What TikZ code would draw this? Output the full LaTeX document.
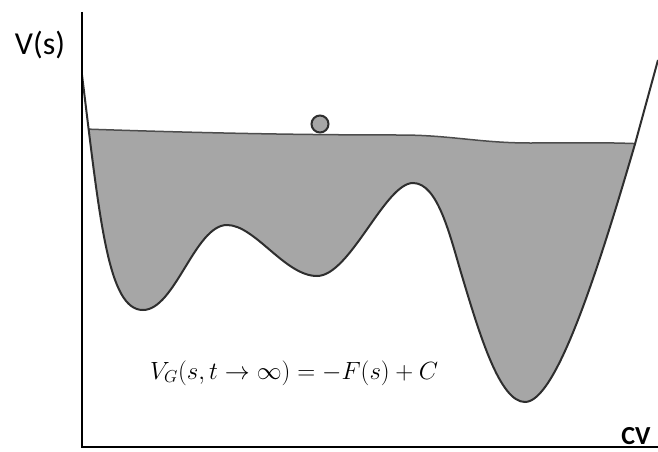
\documentclass[tikz,border=0pt]{standalone}
\usepackage{amsmath, amssymb}
\usepackage{fontspec}
\setmainfont{Carlito}
\usepackage{tikz}
\usetikzlibrary{calc, positioning}
\tikzset{>=latex}
\definecolor{wellgray}{HTML}{A6A6A6}
\definecolor{linegray}{HTML}{2E2E2E}
\tikzset{
  axis line/.style={line width=2.8pt, black},
  valley line/.style={line width=2pt, linegray},
  level line/.style={line width=1.5pt, linegray!85},
  ballnode/.style={circle, fill=wellgray, draw=linegray, line width=2pt,
    minimum size=17pt, inner sep=0pt},
  axis label/.style={font=\fontsize{32}{36}\selectfont, inner sep=0pt},
}
% the potential, pixel coordinates with y up
\newcommand{\valleypath}{(82,376) .. controls (100,230) and (108,141) .. (143,141)
  .. controls (175,141) and (195,226) .. (227,226)
  .. controls (255,226) and (285,175) .. (317,175)
  .. controls (350,175) and (385,268) .. (413,268)
  .. controls (438,268) and (450,215) .. (462,175)
  .. controls (480,115) and (500,49) .. (525,49)
  .. controls (555,49) and (595,170) .. (635,307)
  -- (658,391)}
\newcommand{\levelpath}{(84,322) .. controls (200,318) and (300,316) .. (400,316)
  .. controls (450,316) and (480,308) .. (530,308)
  .. controls (570,308) and (600,309) .. (646,307)}

\begin{document}
\begin{tikzpicture}[x=1pt, y=1pt]
  \useasboundingbox (0,0) rectangle (658,451);
  \coordinate (top) at (82,439);
  \coordinate (origin) at (82,4);
  \coordinate (right) at (658,4);

  % filled basin, bounded by the level line
  \begin{scope}
    \clip \valleypath -- (658,451) -- (82,451) -- cycle;
    \fill[wellgray] \levelpath -- (646,0) -- (84,0) -- cycle;
    \draw[level line] \levelpath;
  \end{scope}
  \draw[valley line] \valleypath;

  \draw[axis line] (top) -- (origin) -- (right);
  \node[ballnode] (ball) at (320,327) {};

  \node[axis label] (vs) at (40,406) {V(s)};
  \node[axis label, font=\fontsize{26}{30}\selectfont\bfseries] (cv) at (636,15) {CV};
  \node[font=\fontsize{27}{31}\selectfont] (formula) at (294,78)
    {$V_G(s,t\to\infty)=-F(s)+C$};
\end{tikzpicture}
\end{document}
